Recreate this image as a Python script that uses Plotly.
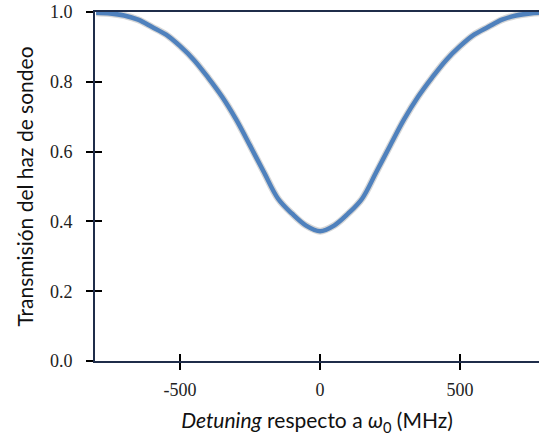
import plotly.graph_objects as go

detuning = [-800, -750, -700, -650, -600, -550, -500, -450, -400, -350, -300, -250, -200, -150, -100, -50,
            0, 50, 100, 150, 200, 250, 300, 350, 400, 450, 500, 550, 600, 650, 700, 750, 800]
transmission = [0.998, 0.996, 0.99, 0.978, 0.957, 0.935, 0.902, 0.862, 0.812, 0.757, 0.692, 0.617, 0.54,
                0.465, 0.422, 0.388, 0.372, 0.388, 0.422, 0.465, 0.54, 0.617, 0.692, 0.757, 0.812, 0.862,
                0.902, 0.935, 0.957, 0.978, 0.99, 0.996, 0.998]
x_ticks = [-500, 0, 500]
y_ticks = [0.0, 0.2, 0.4, 0.6, 0.8, 1.0]
y_labels = ["0.0", "0.2", "0.4", "0.6", "0.8", "1.0"]

x_range = [-804, 782]
y_range = [0, 1]

fig = go.Figure()
fig.add_trace(go.Scatter(x=detuning, y=transmission, mode="lines",
                         line=dict(color="rgba(90,90,90,0.25)", width=7, shape="spline"),
                         hoverinfo="skip", showlegend=False))
fig.add_trace(go.Scatter(x=detuning, y=transmission, mode="lines",
                         line=dict(color="#4f81bd", width=4.5, shape="spline"),
                         showlegend=False))
# helper trace for secondary (inside-tick) axes
fig.add_trace(go.Scatter(x=[0], y=[0.5], xaxis="x2", yaxis="y2", mode="markers",
                         marker=dict(opacity=0), hoverinfo="skip", showlegend=False))

tickfont = dict(family="Liberation Serif", size=18, color="#222")
titlefont = dict(family="Lato", size=21, color="#111")

fig.update_layout(
    width=539, height=443,
    margin=dict(l=95, r=0, t=12, b=82),
    plot_bgcolor="white", paper_bgcolor="white",
    xaxis=dict(range=x_range, tickvals=x_ticks, ticktext=["-500", "0", "500"],
               ticks="outside", ticklen=7, tickwidth=1.5, tickcolor="black",
               showline=True, linecolor="#1f2d4a", linewidth=2, mirror=True,
               showgrid=False, zeroline=False, tickfont=tickfont, ticklabelstandoff=4,
               title=dict(text="<i>Detuning</i> respecto a <i>ω</i><sub>0</sub> (MHz)",
                          font=titlefont, standoff=15)),
    yaxis=dict(range=y_range, tickvals=y_ticks, ticktext=y_labels,
               ticks="outside", ticklen=7, tickwidth=1.5, tickcolor="black",
               showline=True, linecolor="#1f2d4a", linewidth=2,
               showgrid=False, zeroline=False, tickfont=tickfont, ticklabelstandoff=10,
               title=dict(text="Transmisión del haz de sondeo", font=titlefont, standoff=11)),
    xaxis2=dict(range=x_range, overlaying="x", anchor="y", side="bottom",
                tickvals=x_ticks, ticks="inside", ticklen=7, tickwidth=1.5, tickcolor="black",
                showticklabels=False, showline=False, showgrid=False, zeroline=False),
    yaxis2=dict(range=y_range, overlaying="y", anchor="x", side="left",
                tickvals=y_ticks, ticks="inside", ticklen=7, tickwidth=1.5, tickcolor="black",
                showticklabels=False, showline=False, showgrid=False, zeroline=False),
)

fig.write_html("out.html")
